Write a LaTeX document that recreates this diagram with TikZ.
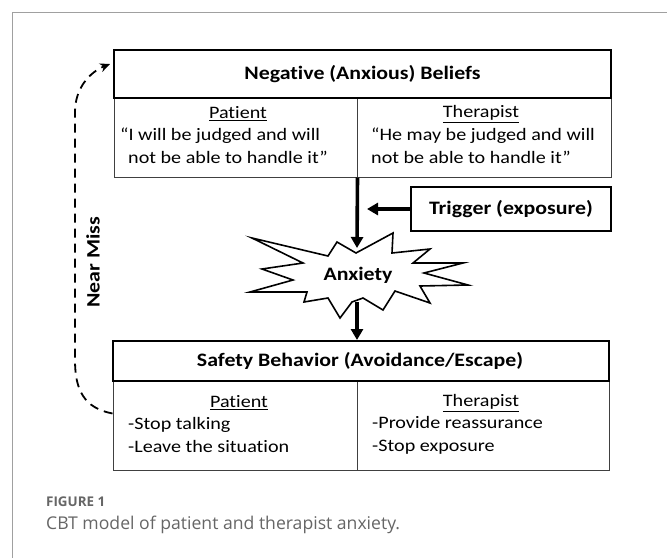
\documentclass[tikz,border=0pt]{standalone}
\usepackage{fontspec}
\setmainfont[FakeStretch=1.15,Ligatures=NoCommon]{Carlito}
\newfontfamily\capfont{Open Sans}
\usetikzlibrary{arrows.meta,calc}
\definecolor{framegray}{HTML}{A0A0A0}
\definecolor{cellgray}{HTML}{404040}
\definecolor{captgray}{HTML}{666666}
\begin{document}
\begin{tikzpicture}[x=1pt,y=-1pt,
  titlebox/.style={draw=black,line width=2pt,fill=white,inner sep=0pt,minimum height=48pt},
  cellbox/.style={draw=cellgray,line width=1pt,inner sep=0pt},
  bigarrow/.style={line width=3.6pt,-{Triangle[width=12pt,length=11pt]}},
  boldtxt/.style={font=\fontsize{19}{22}\selectfont\bfseries,inner sep=0pt},
  bodytxt/.style={font=\fontsize{17.5}{23}\selectfont,inner sep=0pt,align=left},
  headtxt/.style={font=\fontsize{17.5}{20}\selectfont,inner sep=0pt}]
\useasboundingbox (0,0) rectangle (667,558);
\fill[white] (0,0) rectangle (667,558);
% frame
\draw[framegray,line width=1pt] (12,558) -- (12,12) -- (667,12);

% --- Negative beliefs box
\node[cellbox,minimum width=243pt,minimum height=79pt] (negP) at (235.5,137.5) {};
\node[cellbox,minimum width=254pt,minimum height=79pt] (negTh) at (484,137.5) {};
\node[titlebox,minimum width=497pt,minimum height=48pt] (negT) at (362.5,74) {};
\node[boldtxt] (negTtxt) at (362.5,74) {Negative (Anxious) Beliefs};
\node[headtxt] (negPh) at (238,114) {\underline{Patient}};
\node[headtxt] (negThh) at (481,114) {\underline{Therapist}};
\node[bodytxt,anchor=north west] (negPq) at (120,128) {“I will be judged and will\\\hspace*{8pt}not be able to handle it”};
\node[bodytxt,anchor=north west] (negThq) at (371,128) {“He may be judged and will\\not be able to handle it”};

% --- Trigger
\node[draw=black,line width=1.6pt,minimum width=200pt,minimum height=44pt,inner sep=0pt] (trig) at (511,209) {};
\node[boldtxt] (trigtxt) at (511,209) {Trigger (exposure)};

% --- Anxiety star
\coordinate (startop) at (357,248);
\coordinate (starbot) at (357,302);
\coordinate (trigend) at (367,209);
\draw[line width=1.6pt,fill=white,line join=miter]
  (356,253) -- (337,242) -- (328,256) -- (252,238) -- (303,263) -- (262,269)
  -- (293,280) -- (250,292) -- (307,292) -- (304,302) -- (328,298)
  -- (340,318) -- (352,302) -- (363,298) -- (383,310) -- (395,291)
  -- (430,303) -- (420,286) -- (468,285) -- (424,273) -- (463,263)
  -- (413,263) -- (430,249) -- (392,253) -- (393,233) -- cycle;
\node[boldtxt] (anx) at (358,275) {Anxiety};

% --- Safety behavior box
\node[cellbox,minimum width=244pt,minimum height=89pt] (safP) at (235,425.5) {};
\node[cellbox,minimum width=252pt,minimum height=89pt] (safTh) at (483,425.5) {};
\node[titlebox,minimum width=496pt,minimum height=40pt] (safT) at (361,361) {};
\node[boldtxt] (safTtxt) at (360,361) {Safety Behavior (Avoidance/Escape)};
\node[headtxt] (safPh) at (239,403) {\underline{Patient}};
\node[headtxt] (safThh) at (481,403) {\underline{Therapist}};
\node[bodytxt,anchor=north west] (safPl) at (128,417) {-Stop talking\\-Leave the situation};
\node[bodytxt,anchor=north west] (safThl) at (372,416) {-Provide reassurance\\-Stop exposure};

% --- connectors
\draw[bigarrow] (negP.south east) -- (startop);
\draw[bigarrow] (trig.west) -- (trigend);
\draw[bigarrow] (starbot) -- (starbot |- safT.north);
\draw[line width=1.8pt,dash pattern=on 9pt off 6pt,-{Stealth[length=10pt,width=9pt]}]
  ([yshift=12pt]safP.west) .. controls (84,408) and (75,390) .. (75,360)
  -- (75,112) .. controls (75,88) and (90,72) .. ([xshift=-3pt,yshift=10pt]negT.west);
\node[boldtxt,rotate=90] (near) at (93,262) {Near Miss};

% --- caption
\node[anchor=west,inner sep=0pt,text=captgray,font=\capfont\fontsize{13.4}{15}\selectfont\bfseries] (fig) at (46,502) {FIGURE 1};
\node[anchor=west,inner sep=0pt,text=captgray,font=\capfont\fontsize{17.6}{20}\selectfont] (cap) at (46,525) {CBT model of patient and therapist anxiety.};
\end{tikzpicture}
\end{document}
